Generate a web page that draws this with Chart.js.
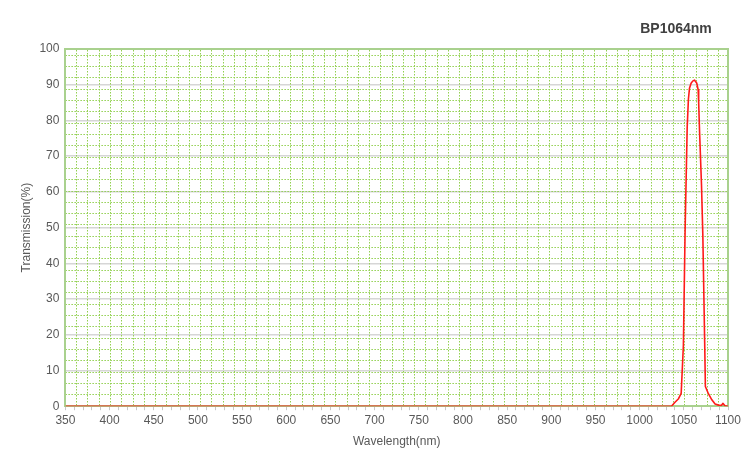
<!DOCTYPE html>
<html>
<head>
<meta charset="utf-8">
<script src="https://cdn.jsdelivr.net/npm/chart.js@4/dist/chart.umd.min.js"></script>
<style>
  html, body { margin: 0; padding: 0; background: #ffffff; }
  #wrap { width: 750px; height: 459px; position: relative; }
</style>
</head>
<body>
<div id="wrap"><canvas id="chart"></canvas></div>
<script>
// Transmission curve of the BP1064nm filter
const wavelengths = [350, 1036, 1040, 1044, 1047, 1049.5, 1051.5, 1053.8, 1055.2, 1056.4,
  1058.2, 1060, 1062, 1064.7, 1066.2, 1066.8, 1067.8, 1070, 1071.5, 1073.6, 1074.4,
  1077.8, 1081.7, 1085.4, 1089.2, 1092.5, 1094.2, 1096.5, 1100];
const transmission = [0, 0, 1.1, 2.1, 3.6, 17, 50, 78, 86, 89,
  90.4, 91, 91.3, 90.4, 88.6, 85, 77, 62, 48, 18, 5.5,
  3.5, 1.8, 0.6, 0.3, 0.2, 0.8, 0.1, 0];

const chartTitle = "BP1064nm";
const xTitle = "Wavelength(nm)";
const yTitle = "Transmission(%)";
const xRange = [350, 1100];
const yRange = [0, 100];

// dotted background grid (fixed cell size, not aligned to the axis values)
const gridXStart = 362.8, gridXStep = 12.75, gridXCount = 58;
const gridYStart = 98.26, gridYStep = 3.168, gridYCount = 31;

const GREEN_BORDER = "#a9d18e";
const GREEN_DOT = "#92d050";
const TEXT = "#595959";

Chart.defaults.font.family = "'Liberation Sans', Arial, sans-serif";
Chart.defaults.color = TEXT;

function gridTicks(start, step, count) {
  const out = [];
  for (let i = 0; i < count; i++) out.push({ value: start + step * i });
  return out;
}

// draws the chart title above the right end of the plot
const cornerTitle = {
  id: "cornerTitle",
  afterDraw(chart) {
    const { ctx, chartArea } = chart;
    ctx.save();
    ctx.font = "bold 14px 'Liberation Sans', Arial, sans-serif";
    ctx.fillStyle = "#404040";
    ctx.textAlign = "center";
    ctx.textBaseline = "middle";
    ctx.fillText(chartTitle, chartArea.right - 52, 29);
    ctx.restore();
  },
};

const points = wavelengths.map((w, i) => ({ x: w, y: transmission[i] }));

new Chart(document.getElementById("chart"), {
  type: "line",
  data: {
    datasets: [
      {
        label: chartTitle,
        data: points,
        borderColor: "#ff1a1a",
        borderWidth: 1.6,
        borderJoinStyle: "round",
        pointRadius: 0,
        tension: 0,
        fill: false,
      },
    ],
  },
  options: {
    responsive: true,
    maintainAspectRatio: false,
    animation: false,
    layout: { padding: { left: 9, right: 22, top: 49, bottom: 8 } },
    plugins: {
      legend: { display: false },
      tooltip: { enabled: false },
      title: { display: false },
    },
    scales: {
      x: {
        type: "linear",
        position: "bottom",
        min: xRange[0],
        max: xRange[1],
        ticks: {
          stepSize: 10,
          autoSkip: false,
          maxRotation: 0,
          padding: 3,
          font: { size: 12 },
          callback: (v) => (v % 50 === 0 ? v : ""),
        },
        grid: {
          drawOnChartArea: false,
          drawTicks: true,
          tickLength: 4,
          tickColor: "#c8c8c8",
        },
        border: { color: GREEN_BORDER, width: 2 },
        title: {
          display: true,
          text: xTitle,
          font: { size: 12 },
          padding: { top: 4, bottom: 2 },
        },
      },
      y: {
        type: "linear",
        position: "left",
        min: yRange[0],
        max: yRange[1],
        ticks: { stepSize: 10, padding: 6, font: { size: 12 } },
        grid: {
          drawTicks: false,
          lineWidth: 1.5,
          color: (c) =>
            c.tick && (c.tick.value === 0 || c.tick.value === 100) ? "rgba(0,0,0,0)" : "#d6d6d6",
        },
        border: { color: GREEN_BORDER, width: 2 },
        title: {
          display: true,
          text: yTitle,
          font: { size: 12 },
          padding: { top: 10, bottom: 0 },
        },
      },
      gx: {
        type: "linear",
        position: "top",
        min: xRange[0],
        max: xRange[1],
        afterBuildTicks: (axis) => { axis.ticks = gridTicks(gridXStart, gridXStep, gridXCount); },
        ticks: { display: false },
        grid: { color: GREEN_DOT, lineWidth: 1, drawTicks: false },
        border: { color: GREEN_BORDER, width: 2, dash: [1.5, 1.5] },
      },
      gy: {
        type: "linear",
        position: "right",
        min: yRange[0],
        max: yRange[1],
        afterBuildTicks: (axis) => { axis.ticks = gridTicks(gridYStart, -gridYStep, gridYCount); },
        ticks: { display: false },
        grid: { color: GREEN_DOT, lineWidth: 1, drawTicks: false },
        border: { color: GREEN_BORDER, width: 2, dash: [1.5, 1.5] },
      },
    },
  },
  plugins: [cornerTitle],
});
</script>
</body>
</html>
